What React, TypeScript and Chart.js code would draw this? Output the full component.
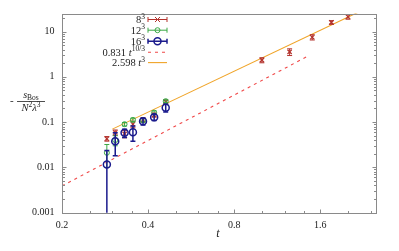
import React, { useEffect, useRef } from 'react';
import { Chart, registerables } from 'chart.js';
Chart.register(...registerables);

// ---- data ----
const tLow = [0.287, 0.307, 0.331, 0.354, 0.384, 0.42, 0.461];
const tHigh = [1.0, 1.25, 1.5, 1.75, 2.0];
const t8 = [...tLow, ...tHigh];
const s8 = [0.043, 0.059, 0.055, 0.09, 0.112, 0.144, 0.28, 2.34, 3.55, 7.5, 15.9, 21.2];
const e8 = [0.005, 0.008, 0.01, 0.015, 0.012, 0.015, 0.03, 0.3, 0.6, 1.0, 1.5, 2.5];
const s12 = [0.021, 0.04, 0.09, 0.112, 0.11, 0.162, 0.29];
const e12 = [0.011, 0.01, 0.008, 0.01, 0.01, 0.015, 0.02];
const s16 = [0.0116, 0.038, 0.058, 0.06, 0.104, 0.128, 0.208];
const e16 = [0.012, 0.02, 0.012, 0.022, 0.018, 0.02, 0.04];
// fit lines (straight in log-log: end points only)
const fit1T = [0.2, 1.46];
const fit1V = [0.0039, 2.94]; // 0.831 t^{10/3}
const fit2T = [0.3, 2.2];
const fit2V = [0.07, 27.7]; // 2.598 t^3
const xTicks = [0.2, 0.4, 0.8, 1.6];
const xMinor = [0.25, 0.3, 0.35, 0.5, 0.6, 0.7, 1.0, 1.2, 1.4, 2.0, 2.4];
const yTicks = [0.001, 0.01, 0.1, 1, 10];

const RED = '#b3322c';
const GREEN = '#3aa845';
const BLUE = '#1a1a8c';
const DASH = '#f04848';
const ORANGE = '#f0a428';
const SERIF = '"Liberation Serif", "DejaVu Serif", serif';

type Seg = { s: string; it?: boolean; sz: number; dy?: number };
function fnt(g: Seg) {
  return `${g.it ? 'italic ' : ''}${g.sz}px ${SERIF}`;
}
function drawSegs(ctx: CanvasRenderingContext2D, segs: Seg[], x: number, y: number, align: 'left' | 'right' | 'center') {
  let w = 0;
  for (const g of segs) { ctx.font = fnt(g); w += ctx.measureText(g.s).width; }
  let cx = align === 'left' ? x : align === 'right' ? x - w : x - w / 2;
  ctx.textAlign = 'left';
  ctx.textBaseline = 'alphabetic';
  for (const g of segs) {
    ctx.font = fnt(g);
    ctx.fillText(g.s, cx, y + (g.dy || 0));
    cx += ctx.measureText(g.s).width;
  }
}

const errorBars = {
  id: 'errorBars',
  afterDatasetDraw(chart: any, args: any) {
    const ds = chart.data.datasets[args.index];
    if (!ds.errors) return;
    const ctx = chart.ctx;
    const ys = chart.scales.y;
    const a = chart.chartArea;
    ctx.save();
    ctx.beginPath();
    ctx.rect(a.left, a.top, a.right - a.left, a.bottom - a.top);
    ctx.clip();
    ctx.strokeStyle = ds.borderColor;
    ctx.lineWidth = ds.errWidth || 1;
    args.meta.data.forEach((pt: any, i: number) => {
      const v = ds.data[i].y;
      const e = ds.errors[i];
      const hi = ys.getPixelForValue(v + e);
      const lo = v - e > 0 ? ys.getPixelForValue(v - e) : a.bottom + 5;
      const x = pt.x;
      ctx.beginPath();
      ctx.moveTo(x, hi); ctx.lineTo(x, lo);
      ctx.moveTo(x - 2.5, hi); ctx.lineTo(x + 2.5, hi);
      ctx.moveTo(x - 2.5, lo); ctx.lineTo(x + 2.5, lo);
      ctx.stroke();
    });
    ctx.restore();
  },
};

const frame = {
  id: 'frame',
  afterDraw(chart: any) {
    const ctx = chart.ctx;
    const a = chart.chartArea;
    const xs = chart.scales.x;
    const ys = chart.scales.y;
    ctx.save();
    ctx.strokeStyle = '#8a8a8a';
    ctx.lineWidth = 1;
    const L = Math.round(a.left) + 0.5, R = Math.round(a.right) + 0.5;
    const T = Math.round(a.top) + 0.5, B = Math.round(a.bottom) + 0.5;
    ctx.strokeRect(L, T, R - L, B - T);
    ctx.beginPath();
    for (const v of xTicks) { const x = Math.round(xs.getPixelForValue(v)) + 0.5; ctx.moveTo(x, B); ctx.lineTo(x, B - 4); }
    for (const v of xMinor) { const x = Math.round(xs.getPixelForValue(v)) + 0.5; ctx.moveTo(x, B); ctx.lineTo(x, B - 2.5); }
    for (const d of yTicks) {
      for (let k = 1; k <= 9; k++) {
        const v = d * k;
        if (v > 25) continue;
        const y = Math.round(ys.getPixelForValue(v)) + 0.5;
        const len = k === 1 ? 4 : 2.5;
        ctx.moveTo(L, y); ctx.lineTo(L + len, y);
        ctx.moveTo(R, y); ctx.lineTo(R - len, y);
      }
    }
    ctx.stroke();

    // axis titles
    ctx.fillStyle = '#222';
    drawSegs(ctx, [{ s: 't', it: true, sz: 12 }], 218, 237, 'center');
    drawSegs(ctx, [{ s: '-', sz: 11 }], 10, 104, 'left');
    drawSegs(ctx, [{ s: 's', it: true, sz: 10 }, { s: 'Bos', sz: 7.5, dy: 2 }], 31, 97.5, 'center');
    ctx.strokeStyle = '#222';
    ctx.lineWidth = 0.8;
    ctx.beginPath(); ctx.moveTo(17, 101.5); ctx.lineTo(45, 101.5); ctx.stroke();
    drawSegs(ctx, [
      { s: 'N', it: true, sz: 10.5 }, { s: '2', sz: 7.5, dy: -4 },
      { s: 'λ', it: true, sz: 10.5 }, { s: '3', sz: 7.5, dy: -4 },
    ], 31, 110.5, 'center');

    // legend
    const tx = 145, sx0 = 148, sx1 = 167, sm = 157.5;
    const rows = [19.5, 30.2, 41.3, 52.2, 62.6];
    const FS = 10.5;
    const labels: Seg[][] = [
      [{ s: '8', sz: FS }, { s: '3', sz: 7.5, dy: -4.5 }],
      [{ s: '12', sz: FS }, { s: '3', sz: 7.5, dy: -4.5 }],
      [{ s: '16', sz: FS }, { s: '3', sz: 7.5, dy: -4.5 }],
      [{ s: '0.831 ', sz: FS }, { s: 't', it: true, sz: FS }, { s: '10/3', sz: 7.5, dy: -4.5 }],
      [{ s: '2.598 ', sz: FS }, { s: 't', it: true, sz: FS }, { s: '3', sz: 7.5, dy: -4.5 }],
    ];
    rows.forEach((y, i) => {
      ctx.fillStyle = '#222';
      drawSegs(ctx, labels[i], tx, y + 3.5, 'right');
    });
    const cols = [RED, GREEN, BLUE];
    for (let i = 0; i < 3; i++) {
      const y = rows[i];
      ctx.strokeStyle = cols[i];
      ctx.lineWidth = i === 2 ? 1.5 : 1;
      ctx.beginPath();
      ctx.moveTo(sx0, y); ctx.lineTo(sx1, y);
      ctx.moveTo(sx0, y - 2.5); ctx.lineTo(sx0, y + 2.5);
      ctx.moveTo(sx1, y - 2.5); ctx.lineTo(sx1, y + 2.5);
      ctx.stroke();
      ctx.beginPath();
      if (i === 0) {
        ctx.moveTo(sm - 2.5, y - 2.5); ctx.lineTo(sm + 2.5, y + 2.5);
        ctx.moveTo(sm - 2.5, y + 2.5); ctx.lineTo(sm + 2.5, y - 2.5);
      } else {
        ctx.arc(sm, y, i === 2 ? 3.5 : 2.5, 0, Math.PI * 2);
      }
      ctx.stroke();
    }
    ctx.lineWidth = 1.1;
    ctx.strokeStyle = DASH;
    ctx.setLineDash([3, 4]);
    ctx.beginPath(); ctx.moveTo(sx0, rows[3]); ctx.lineTo(sx1, rows[3]); ctx.stroke();
    ctx.setLineDash([]);
    ctx.strokeStyle = ORANGE;
    ctx.beginPath(); ctx.moveTo(sx0, rows[4]); ctx.lineTo(sx1, rows[4]); ctx.stroke();
    ctx.restore();
  },
};

export default function App() {
  const ref = useRef<HTMLCanvasElement>(null);
  useEffect(() => {
    if (!ref.current) return;
    const pts = (xs: number[], ys: number[]) => xs.map((x, i) => ({ x, y: ys[i] }));
    const chart = new Chart(ref.current, {
      type: 'scatter',
      data: {
        datasets: [
          { label: '2.598 t^3', data: pts(fit2T, fit2V), showLine: true, borderColor: ORANGE, borderWidth: 1.1, pointRadius: 0, order: 4 } as any,
          { label: '0.831 t^{10/3}', data: pts(fit1T, fit1V), showLine: true, borderColor: DASH, borderDash: [3, 4], borderWidth: 1.1, pointRadius: 0, order: 5 } as any,
          { label: '8^3', data: pts(t8, s8), errors: e8, errWidth: 1, pointStyle: 'crossRot', pointRadius: 3, pointBorderWidth: 1.2, borderColor: RED, backgroundColor: RED, order: 3 } as any,
          { label: '12^3', data: pts(tLow, s12), errors: e12, errWidth: 1, pointStyle: 'circle', pointRadius: 2.5, pointBorderWidth: 1, borderColor: GREEN, backgroundColor: 'rgba(0,0,0,0)', order: 2 } as any,
          { label: '16^3', data: pts(tLow, s16), errors: e16, errWidth: 1.5, pointStyle: 'circle', pointRadius: 3.5, pointBorderWidth: 1.5, borderColor: BLUE, backgroundColor: 'rgba(0,0,0,0)', order: 1 } as any,
        ],
      },
      options: {
        animation: false,
        responsive: false,
        layout: { padding: { left: 0, right: 23.3, top: 10.7, bottom: 0 } },
        plugins: { legend: { display: false }, tooltip: { enabled: false } },
        scales: {
          x: {
            type: 'logarithmic', min: 0.2, max: 2.5,
            grid: { display: false, drawTicks: false }, border: { display: false },
            afterBuildTicks: (s: any) => { s.ticks = xTicks.map((v) => ({ value: v })); },
            afterFit: (s: any) => { s.height = 38.3; },
            ticks: { autoSkip: false, maxRotation: 0, padding: 7, color: '#222', font: { family: SERIF, size: 10 }, callback: (v: any) => String(v) },
          },
          y: {
            type: 'logarithmic', min: 0.001, max: 25,
            grid: { display: false, drawTicks: false }, border: { display: false },
            afterBuildTicks: (s: any) => { s.ticks = yTicks.map((v) => ({ value: v })); },
            afterFit: (s: any) => { s.width = 62; },
            ticks: { autoSkip: false, padding: 7.5, color: '#222', font: { family: SERIF, size: 10 }, callback: (v: any) => String(v) },
          },
        },
      },
      plugins: [errorBars, frame],
    } as any);
    return () => chart.destroy();
  }, []);
  return (
    <div style={{ position: 'absolute', left: 0, top: 0, width: 399, height: 251, background: '#fff' }}>
      <canvas ref={ref} width={399} height={251} style={{ width: 399, height: 251, display: 'block' }} />
    </div>
  );
}
